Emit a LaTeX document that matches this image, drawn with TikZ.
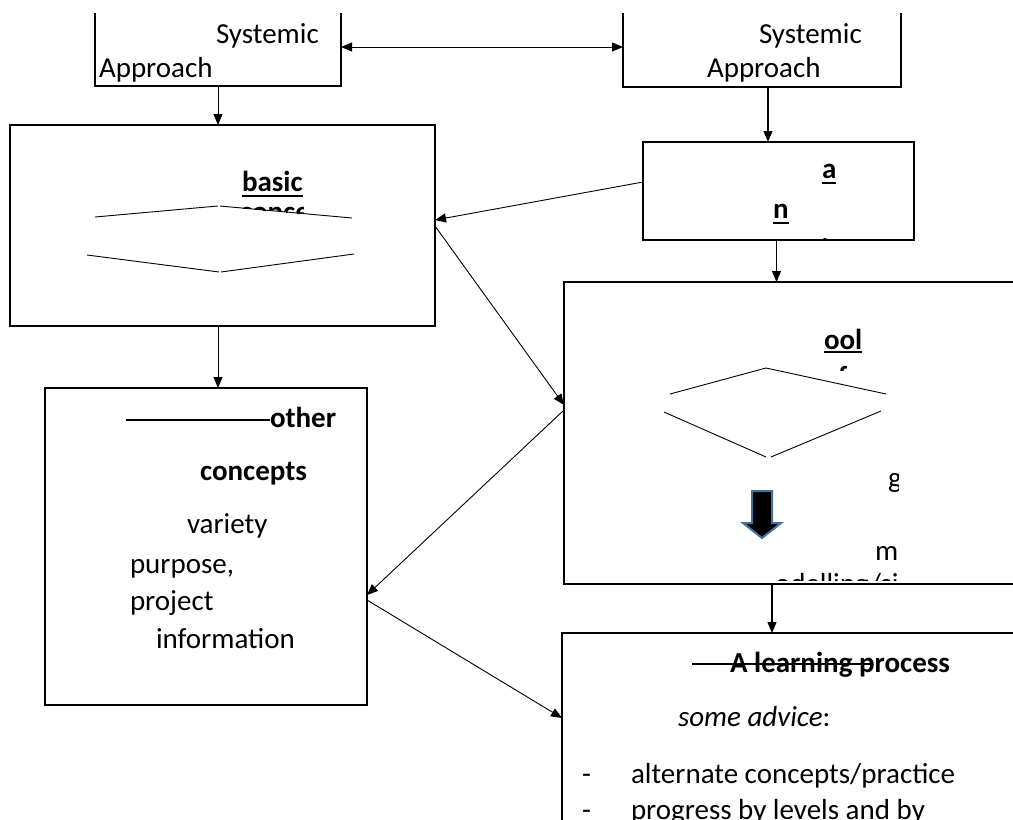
\documentclass[tikz,border=0pt]{standalone}
\usepackage{fontspec}
\setmainfont{Carlito}
\usetikzlibrary{arrows.meta}
\definecolor{arrowblue}{RGB}{65,113,156}
\tikzset{
  area/.style={inner sep=0pt, outer sep=0pt, anchor=north west},
  frame/.style={area, draw, line width=1.8pt},
  edgeline/.style={line width=1.6pt},
  conn/.style={line width=0.9pt, -{Triangle[length=11pt,width=9pt]}},
  biconn/.style={line width=0.9pt, {Triangle[length=11pt,width=9pt]}-{Triangle[length=11pt,width=9pt]}},
  thinline/.style={line width=0.9pt},
  ulline/.style={line width=2pt},
  txt/.style={inner sep=0pt, outer sep=0pt, anchor=base west, font=\fontsize{29}{35}\selectfont},
  btxt/.style={txt, font=\fontsize{29}{35}\selectfont\bfseries},
  itxt/.style={txt, font=\fontsize{29}{35}\selectfont\itshape},
}
\begin{document}
\begin{tikzpicture}[x=1pt,y=-1pt]
\clip (0,0) rectangle (1013,820);
\fill[white] (0,0) rectangle (1013,820);

% ---- box areas ----
\node[area, minimum width=246, minimum height=73] (sa1) at (95,13) {};
\node[area, minimum width=278, minimum height=74] (sa2) at (623,13) {};
\node[frame, minimum width=425, minimum height=201] (basic) at (10,125) {};
\node[frame, minimum width=271, minimum height=98] (an) at (643,142) {};
\node[area, minimum width=460, minimum height=302] (tool) at (564,282) {};
\node[frame, minimum width=322, minimum height=317] (other) at (45,388) {};
\node[area, minimum width=460, minimum height=200] (learn) at (562,633) {};

% open boxes
\draw[edgeline] (sa1.north west) -- (sa1.south west) -- (sa1.south east) -- (sa1.north east);
\draw[edgeline] (sa2.north west) -- (sa2.south west) -- (sa2.south east) -- (sa2.north east);
\draw[edgeline, line width=1.8pt] (tool.north east) -- (tool.north west) -- (tool.south west) -- (tool.south east);
\draw[edgeline, line width=1.8pt] (learn.north east) -- (learn.north west) -- (learn.south west);

% ---- texts: Systemic Approach ----
\node[txt] (s1a) at (216,43) {Systemic};
\node[txt] (s1b) at (99,77) {Approach};
\node[txt] (s2a) at (759,43) {Systemic};
\node[txt] (s2b) at (707,77) {Approach};

% ---- basic box ----
\node[btxt] (tBasic) at (242,191) {basic};
\draw[ulline] ([yshift=-4.5pt]tBasic.base west) -- ([yshift=-4.5pt]tBasic.base east);
\begin{scope}
  \clip (219,196) -- (303,196) -- (303,213.6) -- (219,206) -- cycle;
  \node[btxt] (tBasicHidden) at (240,221) {concepts};
\end{scope}
\draw[thinline] (95,217) -- (218,206);
\draw[thinline] (220,206) -- (352,218);
\draw[thinline] (87,255) -- (219,272);
\draw[thinline] (221,272) -- (354,254);

% ---- a / n box ----
\node[btxt] (tA) at (822,178) {a};
\draw[ulline] ([yshift=-5pt]tA.base west) -- ([yshift=-5pt]tA.base east);
\node[btxt] (tN) at (773,218) {n};
\draw[ulline] ([yshift=-5pt]tN.base west) -- ([yshift=-5pt]tN.base east);
\begin{scope}
  \clip (810,230) rectangle (835,240);
  \node[btxt] (tDot) at (821,242) {.};
\end{scope}

% ---- tool box ----
\node[btxt] (tOol) at (824,349) {ool};
\draw[ulline] ([yshift=-3pt]tOol.base west) -- ([yshift=-3pt]tOol.base east);
\begin{scope}
  \clip (830,355) rectangle (860,370.5);
  \node[btxt] (tF) at (838,386) {f};
\end{scope}
\draw[thinline] (670,394) -- (766,368) -- (886,394);
\draw[thinline] (664,412) -- (766,457);
\draw[thinline] (771,457) -- (881,411);
\begin{scope}
  \clip (560,300) rectangle (898,580.5);
  \node[txt] (tG) at (888,487) {g};
  \node[txt] (tM) at (875,560) {m};
  \node[txt] (tOdel) at (775,593) {odelling/si};
\end{scope}
\draw[arrowblue, line width=2pt, line join=miter, fill=black]
  (752,491) -- (772,491) -- (772,523) -- (781,523) -- (762,538) -- (743,523) -- (752,523) -- cycle;

% ---- other concepts box ----
\draw[line width=1.5pt] (126,420) -- (270,420);
\node[btxt] (tOther) at (270,427) {other};
\node[btxt] (tConcepts) at (200,480) {concepts};
\node[txt] (tVariety) at (187,533) {variety};
\node[txt] (tPurpose) at (130,573) {purpose,};
\node[txt] (tProject) at (130,610) {project};
\node[txt] (tInfo) at (156,648) {information};

% ---- learning process box ----
\draw[line width=1.5pt] (692,664) -- (873,664);
\node[btxt] (tLearn) at (730,672) {A learning process};
\node[txt] (tAdvice) at (678,726) {\itshape some advice\upshape:};
\node[txt] (tDash1) at (582,783) {-};
\node[txt] (tAlt) at (631,783) {alternate concepts/practice};
\node[txt] (tDash2) at (582,819) {-};
\node[txt] (tProg) at (631,819) {progress by levels and by};

% ---- connectors ----
\draw[biconn] ([yshift=2.5pt]sa1.east) -- ([yshift=3pt]sa2.west);
\draw[conn] (sa1.south) -- (sa1.south |- basic.north);
\coordinate (c1) at ([xshift=6pt]sa2.south);
\draw[conn, line width=1.3pt] (c1) -- (c1 |- an.north);
\draw[conn] ([yshift=9pt]an.west) -- ([yshift=5.5pt]basic.east);
\draw[conn] ([xshift=-2pt]an.south) -- ([xshift=-2pt]an.south |- tool.north);
\draw[conn] ([yshift=-0.5pt]basic.east) -- ([yshift=28pt]tool.west);
\draw[conn] ([yshift=23pt]tool.west) -- ([yshift=-48.5pt]other.east);
\draw[conn] ([yshift=-53.5pt]other.east) -- ([yshift=15pt]learn.west);
\coordinate (c2) at ([xshift=-4.5pt]basic.south);
\draw[conn] (c2) -- (c2 |- other.north);
\coordinate (c3) at ([xshift=-22pt]tool.south);
\draw[conn, line width=1.3pt] (c3) -- (c3 |- learn.north);
\end{tikzpicture}
\end{document}
